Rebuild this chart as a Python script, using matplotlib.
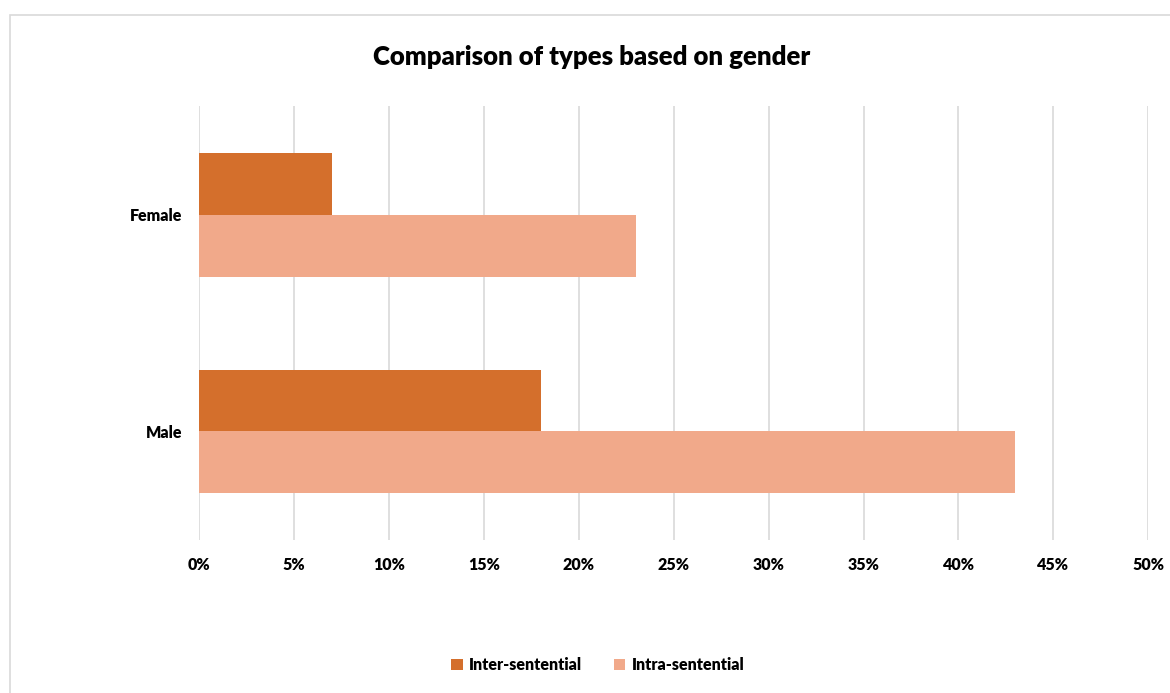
import matplotlib
matplotlib.use("Agg")
import matplotlib.pyplot as plt
from matplotlib.patches import Rectangle
from matplotlib.ticker import PercentFormatter
import numpy as np

# data
genders = ["Male", "Female"]
inter_sentential = [18, 7]
intra_sentential = [43, 23]
x_ticks = [0, 5, 10, 15, 20, 25, 30, 35, 40, 45, 50]

inter_color = "#D46F2C"
intra_color = "#F1A98A"

plt.rcParams["font.family"] = ["Lato", "DejaVu Sans"]
plt.rcParams["font.weight"] = "bold"

fig = plt.figure(figsize=(11.7, 6.93), dpi=100)
ax = fig.add_axes([0.1701, 0.2208, 0.8114, 0.6262])

# light frame around the chart area
fig.patches.append(Rectangle((10 / 1170, -0.1), 1.2, (693 - 15) / 693 + 0.1,
                             transform=fig.transFigure, fill=False,
                             edgecolor="#D9D9D9", linewidth=1.2, zorder=0))

y = np.arange(len(genders))
h = 0.2857
ax.barh(y + h / 2, inter_sentential, height=h, color=inter_color,
        label="Inter-sentential", zorder=3)
ax.barh(y - h / 2, intra_sentential, height=h, color=intra_color,
        label="Intra-sentential", zorder=3)

ax.set_xlim(0, 50)
ax.set_ylim(-0.5, 1.5)
ax.set_xticks(x_ticks)
ax.xaxis.set_major_formatter(PercentFormatter(decimals=0))
ax.set_yticks(y)
ax.set_yticklabels(genders)
ax.tick_params(axis="both", length=0, labelsize=11.5, colors="black")
ax.tick_params(axis="x", pad=12)
ax.tick_params(axis="y", pad=12)
for lbl in ax.get_xticklabels() + ax.get_yticklabels():
    lbl.set_fontweight("heavy")

ax.grid(axis="x", color="#D9D9D9", linewidth=1.2, zorder=0)
for s in ax.spines.values():
    s.set_visible(False)

fig.text(0.5055, 0.918, "Comparison of types based on gender",
         ha="center", va="center", fontsize=18.5, fontweight="heavy")

leg = fig.legend(loc="center", bbox_to_anchor=(0.511, 0.04), ncol=2,
                 frameon=False, fontsize=11.5, handlelength=0.7,
                 handleheight=0.7, columnspacing=2.0, handletextpad=0.4)
for t in leg.get_texts():
    t.set_fontweight("heavy")

fig.savefig("out.png", dpi=100)
